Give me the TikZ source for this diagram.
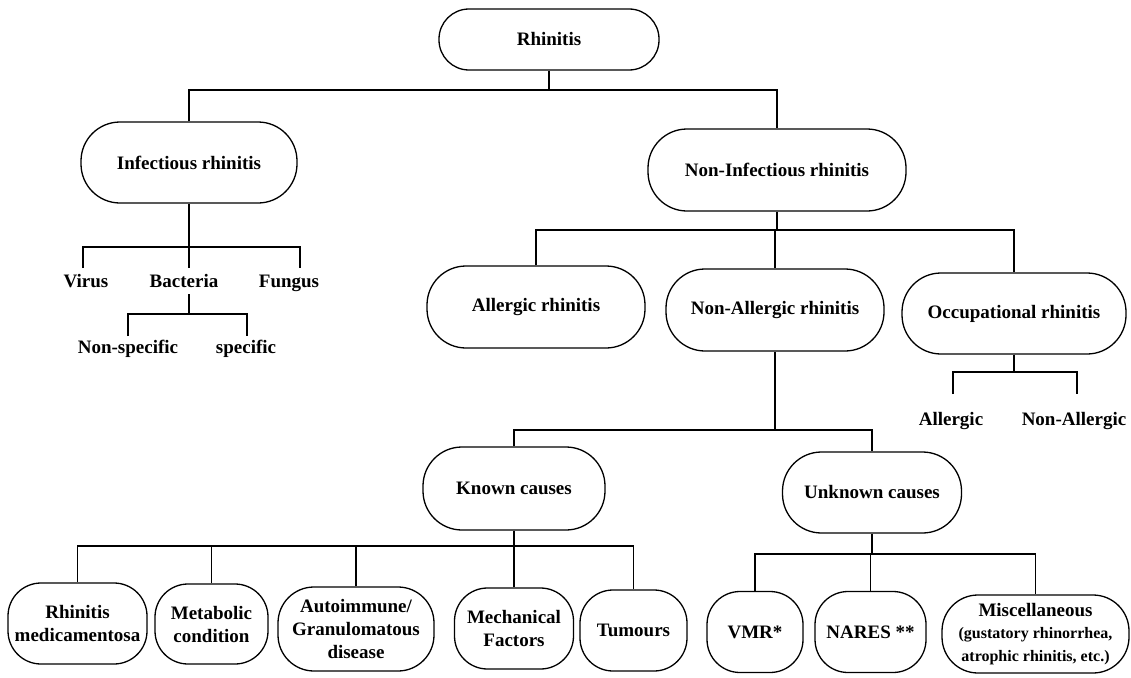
\documentclass[tikz,border=0pt]{standalone}
\usepackage{fontspec}
\setmainfont{Liberation Serif}
\begin{document}
\begin{tikzpicture}[x=1pt,y=-1pt,
  box/.style={draw, line width=1.3pt, rounded corners=#1, align=center, inner sep=0pt},
  box/.default=38pt,
  lbl/.style={inner sep=0pt, anchor=base},
  conn/.style={line width=1.1pt},
  font=\fontsize{19}{23}\selectfont\bfseries]
\useasboundingbox (0,0) rectangle (1131,677);

% boxes
\node[box=30pt, minimum width=220pt, minimum height=61pt] (rh) at (549,39.5) {Rhinitis};
\node[box=39pt, minimum width=216pt, minimum height=81pt] (inf) at (189,162.5) {Infectious rhinitis};
\node[box=39pt, minimum width=258pt, minimum height=82pt] (ninf) at (777,170) {Non-Infectious rhinitis};
\node[box=39pt, minimum width=218pt, minimum height=82pt] (all) at (536,307) {Allergic rhinitis};
\node[box=39pt, minimum width=218pt, minimum height=82pt] (nall) at (775,310) {Non-Allergic rhinitis};
\node[box=39pt, minimum width=224pt, minimum height=81pt] (occ) at (1014,313.5) {Occupational rhinitis};
\node[box=39pt, minimum width=182pt, minimum height=83pt] (known) at (514,488.5) {Known causes};
\node[box=39pt, minimum width=179pt, minimum height=81pt] (unk) at (872,492.5) {Unknown causes};

\node[box=33pt, minimum width=139pt, minimum height=81pt] (rm) at (77.5,623.5) {Rhinitis\\medicamentosa};
\node[box=33pt, minimum width=113pt, minimum height=80pt] (met) at (211.5,624) {Metabolic\\condition};
\node[box=36pt, minimum width=156pt, minimum height=84pt] (auto) at (356,629) {Autoimmune/\\Granulomatous\\disease};
\node[box=33pt, minimum width=119pt, minimum height=81pt] (mech) at (514,628.5) {Mechanical\\Factors};
\node[box=33pt, minimum width=107pt, minimum height=81pt] (tum) at (633.5,630.5) {Tumours};
\node[box=33pt, minimum width=96pt, minimum height=81pt] (vmr) at (755,632) {VMR*};
\node[box=33pt, minimum width=111pt, minimum height=81pt] (nares) at (870.5,632) {NARES **};
\node[box=36pt, minimum width=187pt, minimum height=78pt] (misc) at (1035.5,634)
  {Miscellaneous\\[-1pt]\fontsize{16}{20}\selectfont (gustatory rhinorrhea,\\\fontsize{16}{20}\selectfont atrophic rhinitis, etc.)};

% plain labels (baseline positions)
\node[lbl] (virus) at (86,287.5) {Virus};
\node[lbl] (bact) at (184,287.5) {Bacteria};
\node[lbl] (fung) at (289,287.5) {Fungus};
\node[lbl] (nonspec) at (128,353.5) {Non-specific};
\node[lbl] (spec) at (246,353.5) {specific};
\node[lbl] (oall) at (951,425.5) {Allergic};
\node[lbl] (onall) at (1074,425.5) {Non-Allergic};

% level 1
\coordinate (b1) at (549,90);
\draw[conn] (rh.south) -- (b1);
\draw[conn] (inf.north) |- (b1) -| (ninf.north);

% infectious
\coordinate (b2) at (189,247);
\coordinate (cv) at (83,268);
\coordinate (cb) at (189,268);
\coordinate (cf) at (300,268);
\draw[conn] (inf.south) -- (b2);
\draw[conn] (cv) |- (b2) -| (cf);
\draw[conn] (b2) -- (cb);

% bacteria
\coordinate (bt) at (189,294);
\coordinate (b3) at (189,314);
\coordinate (cns) at (128,336);
\coordinate (csp) at (247,336);
\draw[conn] (bt) -- (b3);
\draw[conn] (cns) |- (b3) -| (csp);

% non-infectious
\coordinate (b4) at (777,230);
\draw[conn] (ninf.south) -- (b4);
\draw[conn] (all.north) |- (b4) -| (occ.north);
\draw[conn] (b4 -| nall.north) -- (nall.north);

% occupational
\coordinate (b5) at (1014,372);
\coordinate (coa) at (953,394);
\coordinate (con) at (1077,394);
\draw[conn] (occ.south) -- (b5);
\draw[conn] (coa) |- (b5) -| (con);

% non-allergic
\coordinate (b6) at (775,430);
\draw[conn] (nall.south) -- (b6);
\draw[conn] (known.north) |- (b6) -| (unk.north);

% known causes
\coordinate (b7) at (514,546);
\draw[conn] (known.south) -- (b7);
\draw[conn] (rm.north) |- (b7) -| (tum.north);
\draw[conn] (met.north) -- (met.north |- b7);
\draw[conn] (auto.north) -- (auto.north |- b7);
\draw[conn] (mech.north) -- (mech.north |- b7);

% unknown causes
\coordinate (b8) at (872,554);
\draw[conn] (unk.south) -- (b8);
\draw[conn] (vmr.north) |- (b8) -| (misc.north);
\draw[conn] (nares.north) -- (nares.north |- b8);
\end{tikzpicture}
\end{document}
